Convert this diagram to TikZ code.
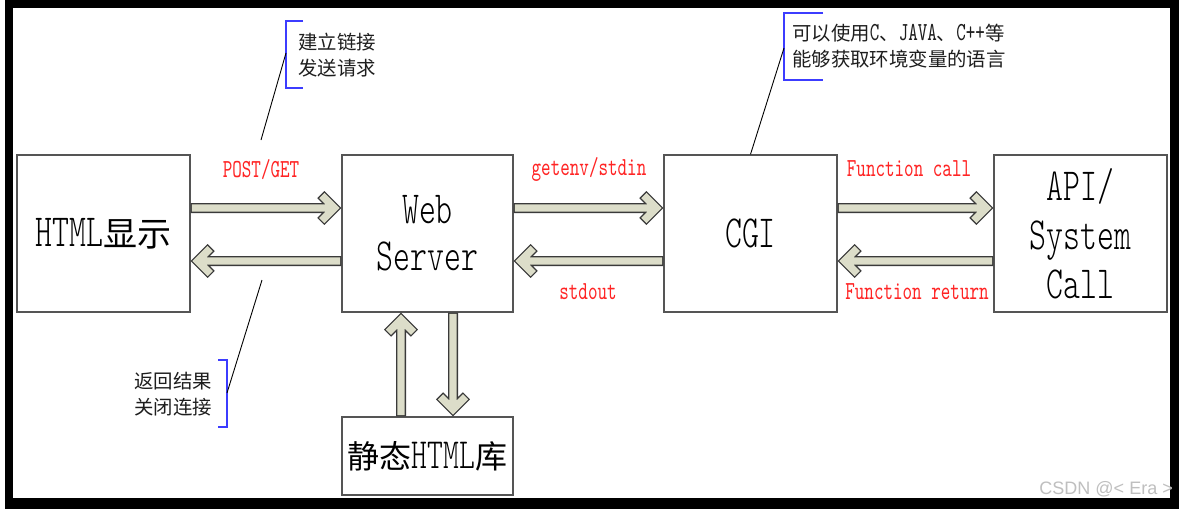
\documentclass[tikz,border=0pt]{standalone}
\usepackage{fontspec}
\usetikzlibrary{calc}
\newfontfamily\cjk{Noto Sans CJK SC}
\newfontfamily\cond[FakeStretch=0.7]{lmmono10-regular.otf}
\newfontfamily\condlt[FakeStretch=0.7]{lmmonolt10-regular.otf}
\newfontfamily\wmfont{Liberation Sans}
\definecolor{boxline}{HTML}{555555}
\definecolor{arrline}{HTML}{3A3A3A}
\definecolor{arrfill}{HTML}{DCDDC9}
\definecolor{lblred}{HTML}{FF2424}
\definecolor{brk}{HTML}{3C3CFF}
\definecolor{txt}{HTML}{1E1E1E}
\newcommand\latbig{\condlt\fontsize{46}{47}\selectfont}
\newcommand\cjkbig{\cjk\fontsize{34}{34}\selectfont}
\newcommand\latsm{\cond\fontsize{26}{26}\selectfont}
\newcommand\cjksm{\cjk\fontsize{19.4}{26}\selectfont}
\tikzset{
  box/.style={draw=boxline, line width=1.3pt, inner sep=0pt, rectangle, align=center},
  barr/.style={draw=arrfill, line width=7.4pt, line cap=rect, line join=miter,
    preaction={draw=arrline, line width=10pt, line cap=rect, line join=miter}},
  redlbl/.style={text=lblred, font=\latsm, inner sep=0pt},
  note/.style={text=txt, font=\cjksm, inner sep=0pt, align=left, anchor=west},
  bracket/.style={draw=brk, line width=1.3pt},
  leader/.style={draw=black, line width=0.9pt}
}
\newcommand\blockarrow[2]{%
  \coordinate (ba-v) at ($#2!7.07pt!#1$);
  \draw[barr] ($#1!5pt!#2$) -- ($#2!12.07pt!#1$)
     ($(ba-v)!14pt!45:#1$) -- (ba-v) -- ($(ba-v)!14pt!-45:#1$);
}
\begin{document}
\begin{tikzpicture}[x=1pt, y=-1pt]
\useasboundingbox (0,0) rectangle (1179,509);
% frame
\fill[black] (5,0) rectangle (1179,509);
\fill[white] (13,8) rectangle (1170,498);
% boxes
\node[box, minimum width=173pt, minimum height=157pt] (html) at (103.5,233.5)
  {{\latbig HTML}{\cjkbig 显示}};
\node[box, minimum width=171pt, minimum height=157pt, font=\latbig] (web) at (427.5,233.5)
  {Web\\Server};
\node[box, minimum width=173pt, minimum height=157pt, font=\latbig] (cgi) at (750.5,233.5)
  {CGI};
\node[box, minimum width=173pt, minimum height=157pt, font=\condlt\fontsize{46}{49}\selectfont] (api) at (1080.5,233.5)
  {API/\\System\\Call};
\node[box, minimum width=171pt, minimum height=78pt] (lib) at (427.5,456)
  {{\cjk\fontsize{32}{32}\selectfont 静态}{\condlt\fontsize{43}{43}\selectfont HTML}{\cjk\fontsize{32}{32}\selectfont 库}};
% arrows
\blockarrow{([yshift=25.5pt]html.east)}{([yshift=25.5pt]web.west)}
\blockarrow{([yshift=-27.5pt]web.west)}{([yshift=-27.5pt]html.east)}
\blockarrow{([yshift=25.5pt]web.east)}{([yshift=25.5pt]cgi.west)}
\blockarrow{([yshift=-27.5pt]cgi.west)}{([yshift=-27.5pt]web.east)}
\blockarrow{([yshift=25.5pt]cgi.east)}{([yshift=25.5pt]api.west)}
\blockarrow{([yshift=-27.5pt]api.west)}{([yshift=-27.5pt]cgi.east)}
\blockarrow{([xshift=-26.5pt]lib.north)}{([xshift=-26.5pt]web.south)}
\blockarrow{([xshift=25.5pt]web.south)}{([xshift=25.5pt]lib.north)}
% red labels
\node[redlbl] (l1) at (261,170) {POST/GET};
\node[redlbl] (l2) at (589,169) {getenv/stdin};
\node[redlbl] (l3) at (588,292) {stdout};
\node[redlbl] (l4) at (909,169) {Function call};
\node[redlbl] (l5) at (917,292) {Function return};
% notes
\node[note] (n1) at (298,55) {建立链接\\发送请求};
\node[note] (n2) at (792,46.5) {可以使用{\latsm C}、{\latsm JAVA}、{\latsm C++}等\\能够获取环境变量的语言};
\node[note] (n3) at (134,394.5) {返回结果\\关闭连接};
% brackets and leaders
\draw[bracket] (303,21) -- (286,21) -- (286,88) -- (303,88);
\coordinate (b1m) at (286,53);
\coordinate (b1e) at (261,140);
\draw[leader] (b1m) -- (b1e);
\draw[bracket] (218,360) -- (227,360) -- (227,427) -- (218,427);
\coordinate (b2m) at (227,393);
\coordinate (b2e) at (262,280);
\draw[leader] (b2m) -- (b2e);
\draw[bracket] (823,13) -- (784,13) -- (784,80) -- (823,80);
\coordinate (b3m) at (784,48);
\draw[leader] (b3m) -- (cgi.north);
% watermark
\node[font=\wmfont\fontsize{18}{18}\selectfont, text=black!25, anchor=east, inner sep=0pt] (wmk) at (1173,489) {CSDN @< Era >};
\end{tikzpicture}
\end{document}
